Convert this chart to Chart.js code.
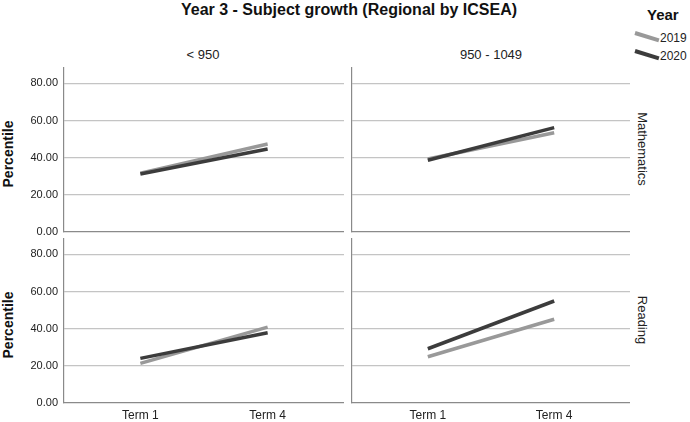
<!DOCTYPE html>
<html lang="en">
<head>
    <meta charset="UTF-8">
    <title>Year 3 - Subject growth (Regional by ICSEA)</title>
    <script src="https://cdn.jsdelivr.net/npm/chart.js"></script>
    <style>
        body { margin: 0; background: #fff; font-family: "Liberation Sans", Arial, sans-serif; color: #111; }
        #wrap { position: relative; width: 690px; height: 422px; overflow: hidden; }
        canvas { position: absolute; }
        .txt { position: absolute; white-space: nowrap; line-height: 1; }
        .title { font-size: 16px; font-weight: bold; left: 349px; top: 2px; transform: translateX(-50%); }
        .col { font-size: 13px; top: 48px; transform: translateX(-50%); color: #222; }
        .ytitle { font-size: 14px; font-weight: bold; transform: translate(-50%, -50%) rotate(-90deg); left: 8px; }
        .row { font-size: 13px; transform: translate(-50%, -50%) rotate(90deg); left: 642px; color: #222; }
        .legtitle { font-size: 15px; font-weight: bold; left: 647px; top: 7px; }
        .legtxt { font-size: 12px; left: 660px; color: #222; }
        .swatch { position: absolute; height: 4px; width: 25px; transform-origin: 0 50%; transform: rotate(17deg); }
    </style>
</head>
<body>
<div id="wrap">
    <div class="txt title">Year 3 - Subject growth (Regional by ICSEA)</div>
    <div class="txt col" style="left:203px">&lt; 950</div>
    <div class="txt col" style="left:491px">950 - 1049</div>
    <div class="txt ytitle" style="top:154px">Percentile</div>
    <div class="txt ytitle" style="top:325px">Percentile</div>
    <div class="txt row" style="top:149px">Mathematics</div>
    <div class="txt row" style="top:320px">Reading</div>

    <div class="txt legtitle">Year</div>
    <div class="swatch" style="left:635px; top:31px; background:#999999"></div>
    <div class="txt legtxt" style="top:32px">2019</div>
    <div class="swatch" style="left:635px; top:49px; background:#3c3c3c"></div>
    <div class="txt legtxt" style="top:50px">2020</div>

    <canvas id="mathLow" style="left:0px; top:67px"></canvas>
    <canvas id="mathMid" style="left:340px; top:67px"></canvas>
    <canvas id="readLow" style="left:0px; top:238px"></canvas>
    <canvas id="readMid" style="left:340px; top:238px"></canvas>
</div>

<script>
const terms = ['Term 1', 'Term 4'];
const years = ['2019', '2020'];
const yTicks = [0, 20, 40, 60, 80];

// Mathematics
const math2019Low = [31.7, 47.4];
const math2020Low = [31.2, 44.7];
const math2019Mid = [39.3, 53.4];
const math2020Mid = [38.6, 56.2];

// Reading
const read2019Low = [21.3, 40.8];
const read2020Low = [24.0, 37.8];
const read2019Mid = [24.9, 45.1];
const read2020Mid = [29.2, 54.9];

const yearColors = ['#999999', '#3c3c3c'];

function toPoints(values) {
    return values.map((v, i) => ({ x: i, y: v }));
}

function makePanel(id, s2019, s2020, leftCol, bottomRow) {
    const canvas = document.getElementById(id);
    const axisW = leftCol ? 64 : 12;
    const axisH = bottomRow ? 19 : 10;
    canvas.width = leftCol ? 344 : 290;
    canvas.height = 165 + axisH;
    canvas.style.width = canvas.width + 'px';
    canvas.style.height = canvas.height + 'px';

    new Chart(canvas.getContext('2d'), {
        type: 'line',
        data: {
            datasets: [s2019, s2020].map((s, i) => ({
                label: years[i],
                data: toPoints(s),
                borderColor: yearColors[i],
                borderWidth: 3.5,
                borderCapStyle: 'butt',
                pointRadius: 0,
                order: 1 - i
            }))
        },
        options: {
            responsive: false,
            animation: false,
            events: [],
            layout: { padding: 0 },
            plugins: { legend: { display: false }, tooltip: { enabled: false } },
            scales: {
                x: {
                    type: 'linear',
                    min: -0.6,
                    max: 1.6,
                    grid: { display: false, drawTicks: false },
                    border: { color: '#8a8a8a', width: 1.2 },
                    afterBuildTicks: scale => { scale.ticks = terms.map((t, i) => ({ value: i })); },
                    afterFit: scale => {
                        scale.height = axisH;
                        scale.paddingLeft = 0; scale.paddingRight = 0;
                    },
                    ticks: {
                        display: bottomRow,
                        padding: 5,
                        color: '#222',
                        font: { family: 'Liberation Sans', size: 12 },
                        callback: v => terms[v]
                    }
                },
                y: {
                    min: 0,
                    max: 88.8,
                    grid: {
                        drawTicks: false,
                        color: ctx => ctx.tick && ctx.tick.value === 0 ? 'rgba(0,0,0,0)' : '#c4c4c4',
                        lineWidth: 1.2
                    },
                    border: { color: '#8a8a8a', width: 1.2 },
                    afterBuildTicks: scale => { scale.ticks = yTicks.map(v => ({ value: v })); },
                    afterFit: scale => {
                        scale.width = axisW;
                        scale.paddingTop = 0; scale.paddingBottom = 0;
                    },
                    ticks: {
                        display: leftCol,
                        padding: 6,
                        color: '#222',
                        font: { family: 'Liberation Sans', size: 11 },
                        callback: v => v.toFixed(2)
                    }
                }
            }
        }
    });
}

makePanel('mathLow', math2019Low, math2020Low, true, false);
makePanel('mathMid', math2019Mid, math2020Mid, false, false);
makePanel('readLow', read2019Low, read2020Low, true, true);
makePanel('readMid', read2019Mid, read2020Mid, false, true);
</script>
</body>
</html>
